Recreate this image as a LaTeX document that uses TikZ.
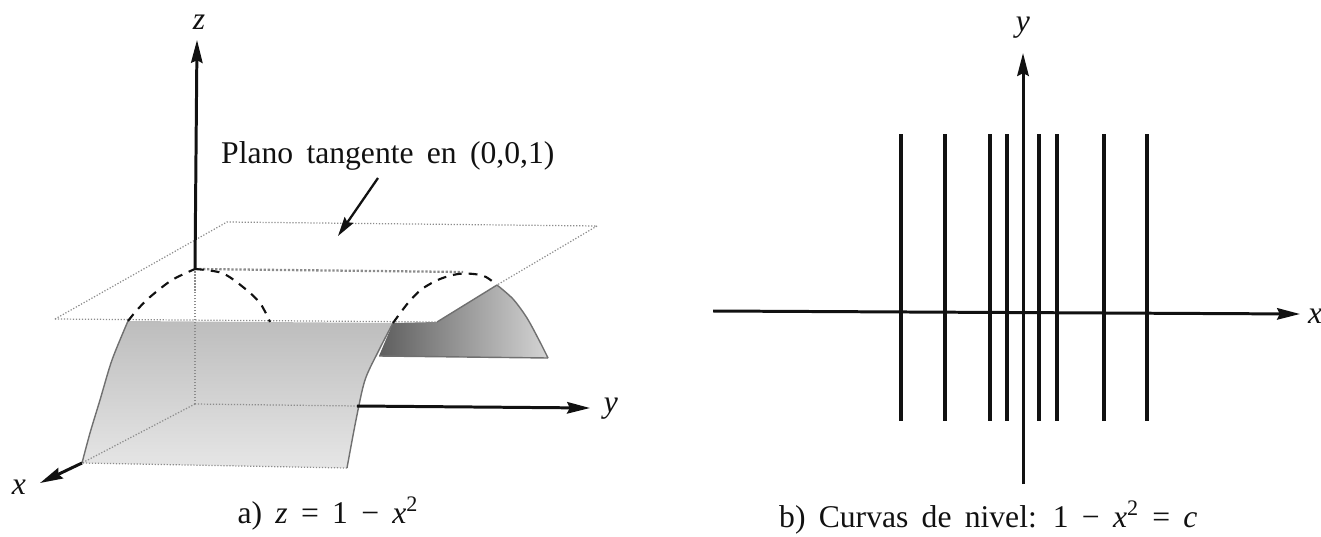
\documentclass[tikz,border=0pt]{standalone}
\usepackage{fontspec}
\setmainfont{Liberation Serif}
\usetikzlibrary{arrows.meta}
\definecolor{SkInk}{HTML}{111111}
\definecolor{SkEdge}{HTML}{8C8C8C}
\definecolor{SkFaceTop}{HTML}{BDBDBD}
\definecolor{SkFaceLow}{HTML}{E6E6E6}
\definecolor{SkDeep}{HTML}{5E5E5E}
\definecolor{SkDeepLow}{HTML}{D4D4D4}
\newcommand{\widesp}{\spaceskip=0.42em plus 0.1em\relax}
\tikzset{
  axis/.style={-{Stealth[length=13pt,width=6.5pt,inset=1.5pt]},SkInk,line width=1.7pt},
  pointer/.style={-{Stealth[length=11pt,width=6pt,inset=1.5pt]},SkInk,line width=1.3pt},
  planeedge/.style={SkEdge,line width=0.7pt,densely dotted},
  rim/.style={SkEdge!80!black,line width=0.8pt},
  ridge/.style={SkEdge,line width=1.3pt,densely dotted},
  hidden/.style={SkInk,line width=1.2pt,dash pattern=on 5pt off 4pt},
  floor/.style={SkEdge,line width=0.7pt,densely dotted},
  level/.style={SkInk,line width=1.8pt},
  axislabel/.style={text=SkInk,font=\fontsize{18}{20}\selectfont\itshape},
  textlabel/.style={text=SkInk,font=\fontsize{18}{20}\selectfont},
}

\begin{document}
\begin{tikzpicture}[x=0.02cm,y=-0.02cm]
  \useasboundingbox (0,0) rectangle (1321,537);

  % a) surface z = 1 - x^2
  \coordinate (O) at (195,404);
  \coordinate (top) at (195,269);
  \coordinate (ztip) at (197,40);
  \coordinate (yout) at (357,406);
  \coordinate (ytip) at (590,408);
  \coordinate (front) at (82,463);
  \coordinate (xtip) at (40,483);
  \coordinate (pA) at (55,319);
  \coordinate (pB) at (227,222);
  \coordinate (pC) at (597,226);
  \coordinate (pD) at (437,322);
  \coordinate (peak) at (497,285);

  \shade[top color=SkFaceTop,bottom color=SkFaceLow]
    plot[smooth] coordinates {(128,321) (112,360) (100,400) (90,433) (82,463)}
    -- (347,468)
    -- plot[smooth] coordinates {(347,468) (356,420) (365,380) (379,350) (393,323)}
    -- cycle;
  \shade[left color=SkDeep,right color=SkDeepLow]
    (393,323) -- (pD) -- (peak)
    -- plot[smooth] coordinates {(497,285) (513,299) (527,318) (540,342) (548,358)}
    -- (379,356) -- cycle;

  \draw[floor] (O) -- (yout);
  \draw[floor] (O) -- (front) -- (347,468);
  \draw[floor] (O) -- (top);
  \draw[rim] (379,356) -- (548,358);

  \draw[planeedge] (pA) -- (pB) -- (pC) -- (peak);
  \draw[planeedge] (pA) -- (pD);
  \draw[rim] (peak) -- (pD);

  \draw[rim] plot[smooth] coordinates {(128,321) (112,360) (100,400) (90,433) (82,463)};
  \draw[rim] plot[smooth] coordinates {(347,468) (356,420) (365,380) (379,350) (393,323)};
  \draw[rim] plot[smooth] coordinates {(497,285) (513,299) (527,318) (540,342) (548,358)};

  \draw[ridge] (top) -- (463,272);
  \draw[hidden] plot[smooth] coordinates {(128,321) (137,310) (150,297) (172,280) (195,269)};
  \draw[hidden] plot[smooth] coordinates {(195,269) (222,273) (243,287) (260,303) (270,322)};
  \draw[hidden] plot[smooth] coordinates {(393,323) (408,303) (422,289) (440,279) (458,274) (474,274) (486,277) (497,285)};

  \draw[axis] (top) -- (ztip);
  \draw[axis] (yout) -- (ytip);
  \draw[axis] (front) -- (xtip);

  \node[axislabel] (zlab) at (199,22) {z};
  \node[axislabel] (ylab) at (611,409) {y};
  \node[axislabel] (xlab) at (19,487) {x};

  \node[textlabel,anchor=base west] (tanlab) at (215,163) {\widesp Plano tangente en (0,0,1)};
  \coordinate (tanfoot) at (378,178);
  \coordinate (tanhit) at (338,236);
  \draw[pointer] (tanfoot) -- (tanhit);

  \node[textlabel,anchor=base] (capa) at (328,523) {\widesp a) \textit{z} = 1 − \textit{x}\textsuperscript{2}};

  % b) level curves
  \coordinate (bxl) at (713,311);
  \coordinate (bxr) at (1300,314);
  \coordinate (byb) at (1023,484);
  \coordinate (byt) at (1023,53);
  \draw[axis] (bxl) -- (bxr);
  \draw[axis] (byb) -- (byt);
  \foreach \lx in {901,945,990,1007,1039,1057,1104,1147}{
    \draw[level] (\lx,134) -- (\lx,421);
  }
  \node[axislabel] (bxlab) at (1315,316) {x};
  \node[axislabel] (bylab) at (1023,28) {y};

  \node[textlabel,anchor=base west] (capb) at (773,527) {\widesp b) Curvas de nivel: 1 − \textit{x}\textsuperscript{2} = \textit{c}};
\end{tikzpicture}
\end{document}
